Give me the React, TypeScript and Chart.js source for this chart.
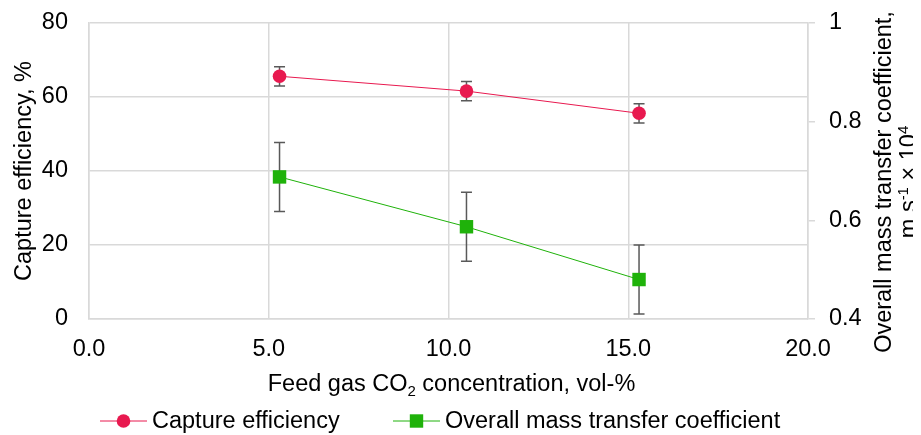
import React, { useEffect, useRef } from "react";
import { Chart, registerables } from "chart.js";

Chart.register(...registerables);

const xValues = [5.3, 10.5, 15.3];
const captureEff = [65.6, 61.6, 55.6];
const captureErr = [2.6, 2.6, 2.6];
const massTransfer = [0.688, 0.587, 0.48];
const massErr = [0.07, 0.07, 0.07];

const xTicksRange = [0, 20, 5];
const leftRange = [0, 80, 20];
const rightRange = [0.4, 1.0, 0.2];

const RED = "#e8194f";
const GREEN = "#1fb20a";
const GRID = "#d9d9d9";
const ERR = "#595959";
const FONT = "'Liberation Sans', Arial, sans-serif";
const FS = 23.5;
const SFS = 15;

type Seg = { t: string; k?: "sup" | "sub" };

function segWidth(ctx: CanvasRenderingContext2D, segs: Seg[]) {
  let w = 0;
  for (const s of segs) {
    ctx.font = `${s.k ? SFS : FS}px ${FONT}`;
    w += ctx.measureText(s.t).width;
  }
  return w;
}

function drawRich(ctx: CanvasRenderingContext2D, segs: Seg[], cx: number, baseY: number) {
  const w = segWidth(ctx, segs);
  let x = cx - w / 2;
  ctx.textAlign = "left";
  ctx.textBaseline = "alphabetic";
  for (const s of segs) {
    ctx.font = `${s.k ? SFS : FS}px ${FONT}`;
    const dy = s.k === "sup" ? -8 : s.k === "sub" ? 5 : 0;
    ctx.fillText(s.t, x, baseY + dy);
    x += ctx.measureText(s.t).width;
  }
}

const xTitle: Seg[] = [{ t: "Feed gas CO" }, { t: "2", k: "sub" }, { t: " concentration, vol-%" }];
const leftTitle: Seg[] = [{ t: "Capture efficiency, %" }];
const rightTitle1: Seg[] = [{ t: "Overall mass transfer coefficient," }];
const rightTitle2: Seg[] = [{ t: "m s" }, { t: "-1", k: "sup" }, { t: " × 10" }, { t: "4", k: "sup" }];
const legendLabels = ["Capture efficiency", "Overall mass transfer coefficient"];

const errorBars = {
  id: "errorBars",
  beforeDatasetsDraw(chart: any) {
    const ctx = chart.ctx;
    const xs = chart.scales.x;
    chart.data.datasets.forEach((ds: any) => {
      const ys = chart.scales[ds.yAxisID];
      ctx.save();
      ctx.strokeStyle = ERR;
      ctx.lineWidth = 1.5;
      ds.data.forEach((p: any, j: number) => {
        const e = ds.errors[j];
        const x = xs.getPixelForValue(p.x);
        const t = ys.getPixelForValue(p.y + e);
        const b = ys.getPixelForValue(p.y - e);
        ctx.beginPath();
        ctx.moveTo(x, t);
        ctx.lineTo(x, b);
        ctx.moveTo(x - 5.5, t);
        ctx.lineTo(x + 5.5, t);
        ctx.moveTo(x - 5.5, b);
        ctx.lineTo(x + 5.5, b);
        ctx.stroke();
      });
      ctx.restore();
    });
  },
};

const decorations = {
  id: "decorations",
  afterDraw(chart: any) {
    const ctx = chart.ctx;
    const area = chart.chartArea;
    ctx.save();
    ctx.fillStyle = "#000";
    // x title
    drawRich(ctx, xTitle, (area.left + area.right) / 2 + 3, 383);
    // left title
    const cy = (area.top + area.bottom) / 2;
    ctx.save();
    ctx.translate(23, cy);
    ctx.rotate(-Math.PI / 2);
    drawRich(ctx, leftTitle, 0, 0);
    ctx.restore();
    // right title
    ctx.save();
    ctx.translate(883, cy + 11);
    ctx.rotate(-Math.PI / 2);
    drawRich(ctx, rightTitle1, 0, 0);
    drawRich(ctx, rightTitle2, 0, 25);
    ctx.restore();
    // legend
    const ly = 413;
    const items = [
      { x0: 92, color: RED, style: "circle" },
      { x0: 385, color: GREEN, style: "rect" },
    ];
    items.forEach((it, i) => {
      ctx.strokeStyle = it.color;
      ctx.lineWidth = 1;
      ctx.beginPath();
      ctx.moveTo(it.x0, ly);
      ctx.lineTo(it.x0 + 47, ly);
      ctx.stroke();
      ctx.fillStyle = it.color;
      const cx = it.x0 + 23.5;
      if (it.style === "circle") {
        ctx.beginPath();
        ctx.arc(cx, ly, 6.8, 0, Math.PI * 2);
        ctx.fill();
      } else {
        ctx.fillRect(cx - 6.7, ly - 6.7, 13.4, 13.4);
      }
      ctx.fillStyle = "#000";
      ctx.font = `${FS}px ${FONT}`;
      ctx.textAlign = "left";
      ctx.textBaseline = "alphabetic";
      ctx.fillText(legendLabels[i], it.x0 + 52, 420);
    });
    ctx.restore();
  },
};

export default function App() {
  const ref = useRef<HTMLCanvasElement | null>(null);
  useEffect(() => {
    if (!ref.current) return;
    const tickFont = { family: FONT, size: FS };
    const chart = new Chart(ref.current, {
      type: "line",
      data: {
        datasets: [
          {
            label: legendLabels[0],
            data: xValues.map((x, i) => ({ x, y: captureEff[i] })),
            errors: captureErr,
            yAxisID: "y",
            borderColor: RED,
            backgroundColor: RED,
            borderWidth: 1,
            pointStyle: "circle",
            pointRadius: 6.8,
            pointBorderWidth: 0,
            pointBackgroundColor: RED,
          } as any,
          {
            label: legendLabels[1],
            data: xValues.map((x, i) => ({ x, y: massTransfer[i] })),
            errors: massErr,
            yAxisID: "y2",
            borderColor: GREEN,
            backgroundColor: GREEN,
            borderWidth: 1,
            pointStyle: "rect",
            pointRadius: 9.5,
            pointBorderWidth: 0,
            pointBackgroundColor: GREEN,
          } as any,
        ],
      },
      options: {
        responsive: false,
        animation: false,
        layout: { padding: { top: 15, left: 0, right: 0, bottom: 0 } },
        plugins: { legend: { display: false }, tooltip: { enabled: false } },
        scales: {
          x: {
            type: "linear",
            min: xTicksRange[0],
            max: xTicksRange[1],
            ticks: {
              stepSize: xTicksRange[2],
              font: tickFont,
              color: "#000",
              padding: 16,
              callback: (v: any) => Number(v).toFixed(1),
            },
            grid: { color: GRID, lineWidth: 1.5, drawTicks: false },
            border: { color: GRID, width: 1.5 },
            afterFit: (s: any) => {
              s.height = 116;
              s.paddingLeft = 0;
              s.paddingRight = 0;
            },
          },
          y: {
            position: "left",
            min: leftRange[0],
            max: leftRange[1],
            ticks: { stepSize: leftRange[2], font: tickFont, color: "#000", padding: 21 },
            grid: { color: GRID, lineWidth: 1.5, drawTicks: false },
            border: { color: GRID, width: 1.5 },
            afterFit: (s: any) => {
              s.width = 81;
              s.paddingTop = 0;
              s.paddingBottom = 0;
            },
          },
          y2: {
            position: "right",
            min: rightRange[0],
            max: rightRange[1],
            ticks: {
              stepSize: rightRange[2],
              font: tickFont,
              color: "#000",
              padding: 14,
              callback: (v: any) => (Math.abs(v - 1) < 1e-6 ? "1" : Number(v).toFixed(1)),
            },
            grid: { color: GRID, lineWidth: 1.5, drawOnChartArea: false, drawTicks: true, tickLength: 7 },
            border: { color: GRID, width: 1.5 },
            afterFit: (s: any) => {
              s.width = 113;
              s.paddingTop = 0;
              s.paddingBottom = 0;
            },
          },
        },
      } as any,
      plugins: [errorBars, decorations],
    });
    return () => chart.destroy();
  }, []);
  return <canvas ref={ref} width={913} height={427} style={{ display: "block" }} />;
}
